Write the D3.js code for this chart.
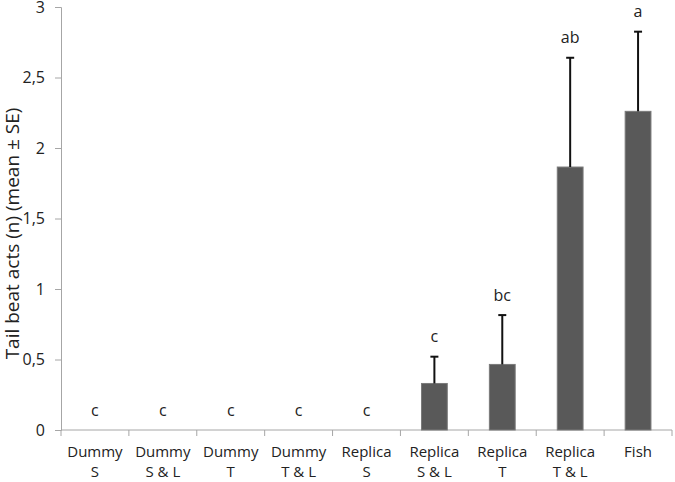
<!DOCTYPE html>
<html>
<head>
<meta charset="utf-8">
<script src="https://cdn.jsdelivr.net/npm/d3@7"></script>
<style>
  body { margin: 0; background: #fff; }
  text { font-family: "Open Sans", "Liberation Sans", sans-serif; fill: #222; }
</style>
</head>
<body>
<svg id="vis"></svg>
<script>
// categories (two label lines each)
var groups = ["Dummy S", "Dummy S & L", "Dummy T", "Dummy T & L", "Replica S",
              "Replica S & L", "Replica T", "Replica T & L", "Fish"];
var line1 = ["Dummy", "Dummy", "Dummy", "Dummy", "Replica", "Replica", "Replica", "Replica", "Fish"];
var line2 = ["S", "S & L", "T", "T & L", "S", "S & L", "T", "T & L", ""];
// mean and SE
var means = [0, 0, 0, 0, 0, 0.33, 0.465, 1.865, 2.26];
var ses = [0, 0, 0, 0, 0, 0.19, 0.35, 0.775, 0.565];
// significance letters
var letters = ["c", "c", "c", "c", "c", "c", "bc", "ab", "a"];
var yTicks = [0, 0.5, 1, 1.5, 2, 2.5, 3];

(function() {
  var width = 675, height = 482;
  var margin = {top: 7, left: 61, right: 3, bottom: 52};

  var chart = d3.select("#vis")
    .attr("width", width)
    .attr("height", height);

  var x = d3.scaleBand()
    .domain(groups)
    .range([margin.left, width - margin.right])
    .paddingInner(0.62)
    .paddingOuter(0.31);

  var y = d3.scaleLinear()
    .domain([0, 3])
    .range([height - margin.bottom, margin.top]);

  var fmt = function(d) { return String(d).replace(".", ","); };

  // y axis
  var yAxis = chart.append("g")
    .attr("transform", "translate(" + margin.left + ",0)")
    .call(d3.axisLeft(y).tickValues(yTicks).tickFormat(fmt).tickSizeOuter(0).tickSize(6).tickPadding(10));
  yAxis.select(".domain").attr("stroke", "#a6a6a6");
  yAxis.selectAll(".tick line").attr("stroke", "#a6a6a6");
  yAxis.selectAll(".tick text").style("font-size", "16px").attr("fill", "#222");

  // x axis line and ticks between categories
  var xAxis = chart.append("g")
    .attr("transform", "translate(0," + y(0) + ")");
  xAxis.append("line")
    .attr("x1", margin.left).attr("x2", width - margin.right)
    .attr("stroke", "#a6a6a6");
  var step = x.step();
  var boundaries = d3.range(groups.length + 1).map(function(i) { return margin.left + i * step; });
  xAxis.selectAll(".xt")
    .data(boundaries)
    .enter().append("line")
    .attr("x1", function(d) { return d; })
    .attr("x2", function(d) { return d; })
    .attr("y1", 0).attr("y2", 6)
    .attr("stroke", "#a6a6a6");

  var cx = function(d, i) { return x(groups[i]) + x.bandwidth() / 2; };

  xAxis.selectAll(".l1")
    .data(line1)
    .enter().append("text")
    .attr("x", cx)
    .attr("y", 27)
    .attr("text-anchor", "middle")
    .style("font-size", "15px")
    .text(function(d) { return d; });
  xAxis.selectAll(".l2")
    .data(line2)
    .enter().append("text")
    .attr("x", cx)
    .attr("y", 47)
    .attr("text-anchor", "middle")
    .style("font-size", "15px")
    .text(function(d) { return d; });

  // bars
  chart.selectAll(".bar")
    .data(means)
    .enter().append("rect")
    .attr("x", function(d, i) { return x(groups[i]); })
    .attr("y", function(d) { return y(d); })
    .attr("width", x.bandwidth())
    .attr("height", function(d) { return y(0) - y(d); })
    .attr("fill", "#595959")
    .attr("stroke", "#7a7a7a")
    .attr("stroke-width", 1);

  // error bars (upper only)
  var err = chart.selectAll(".err")
    .data(means.map(function(m, i) { return {m: m, se: ses[i], i: i}; }).filter(function(d) { return d.se > 0; }))
    .enter().append("g");
  err.append("line")
    .attr("x1", function(d) { return cx(d, d.i); })
    .attr("x2", function(d) { return cx(d, d.i); })
    .attr("y1", function(d) { return y(d.m); })
    .attr("y2", function(d) { return y(d.m + d.se); })
    .attr("stroke", "#111").attr("stroke-width", 2);
  err.append("line")
    .attr("x1", function(d) { return cx(d, d.i) - 4; })
    .attr("x2", function(d) { return cx(d, d.i) + 4; })
    .attr("y1", function(d) { return y(d.m + d.se); })
    .attr("y2", function(d) { return y(d.m + d.se); })
    .attr("stroke", "#111").attr("stroke-width", 2);

  // letters
  chart.selectAll(".letter")
    .data(letters)
    .enter().append("text")
    .attr("x", cx)
    .attr("y", function(d, i) { return y(means[i] + ses[i]) - 20; })
    .attr("dy", "0.35em")
    .attr("text-anchor", "middle")
    .style("font-size", "16px")
    .text(function(d) { return d; });

  // y title
  chart.append("text")
    .attr("transform", "translate(12," + ((y(0) + y(3)) / 2 + 15) + ") rotate(-90)")
    .attr("text-anchor", "middle")
    .attr("dy", "0.35em")
    .style("font-size", "19px")
    .text("Tail beat acts (n) (mean ± SE)");
}());
</script>
</body>
</html>
